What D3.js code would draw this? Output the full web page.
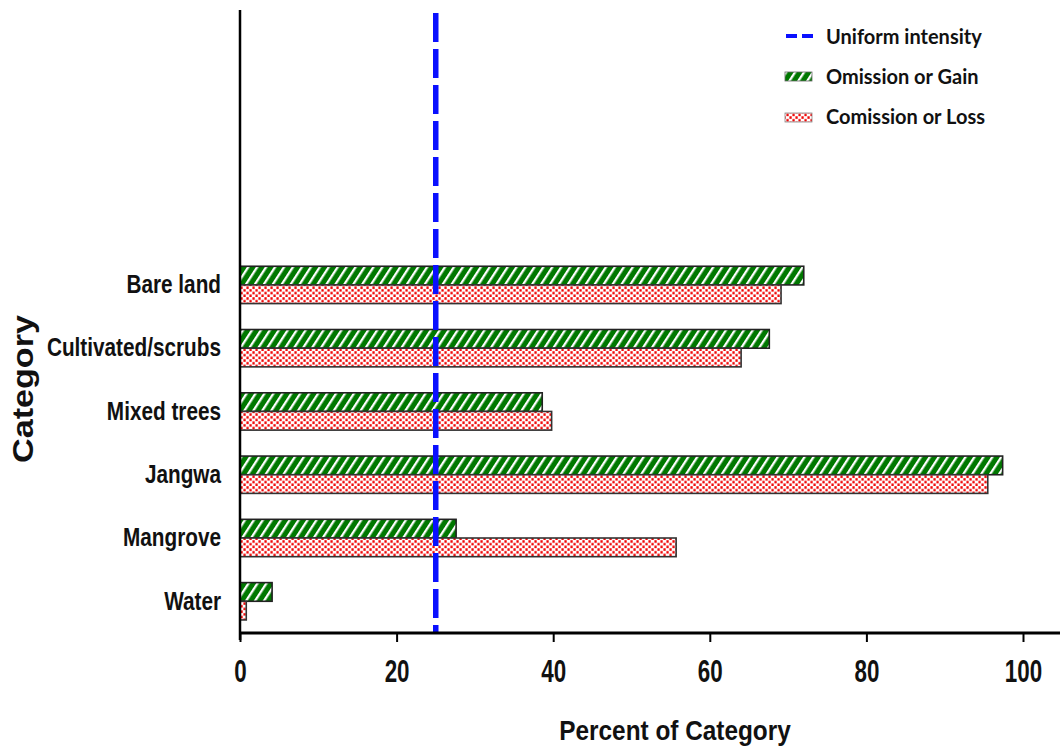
<!DOCTYPE html>
<html><head><meta charset="utf-8">
<script src="https://cdn.jsdelivr.net/npm/d3@7"></script>
<style>body{margin:0;background:#fff}svg{display:block}</style>
</head><body>
<svg id="c" width="1060" height="748"></svg>
<script>
const categories = ["Bare land","Cultivated/scrubs","Mixed trees","Jangwa","Mangrove","Water"];
const omissionGain = [72.0, 67.6, 38.6, 97.4, 27.6, 4.1];
const commissionLoss = [69.1, 64.0, 39.8, 95.5, 55.7, 0.8];
const uniformIntensity = 25;
const xTicks = [0,20,40,60,80,100];
const seriesNames = ["Uniform intensity","Omission or Gain","Comission or Loss"];

const svg = d3.select("#c");
const defs = svg.append("defs");
const ps = defs.append("pattern").attr("id","stripes").attr("patternUnits","userSpaceOnUse")
  .attr("width",7.5).attr("height",8).attr("patternTransform","rotate(33)");
ps.append("rect").attr("width",7.5).attr("height",8).attr("fill","#007800");
ps.append("rect").attr("x",0).attr("width",2.3).attr("height",8).attr("fill","#ffffff");
const pd = defs.append("pattern").attr("id","dots").attr("patternUnits","userSpaceOnUse")
  .attr("width",6).attr("height",5.4);
pd.append("rect").attr("width",6).attr("height",5.4).attr("fill","#fff");
pd.append("rect").attr("x",0.4).attr("y",0.2).attr("width",2.3).attr("height",2.6).attr("fill","#f00808");
pd.append("rect").attr("x",3.4).attr("y",2.9).attr("width",2.3).attr("height",2.6).attr("fill","#f00808");

const x = d3.scaleLinear().domain([0,100]).range([240,1023]);
const y = d3.scaleBand().domain(categories).range([253.6,632.6]).paddingInner(0.41).paddingOuter(0.2);
const sub = d3.scaleBand().domain(["g","l"]).range([0,y.bandwidth()]);

const bars = svg.append("g");
categories.forEach((c,i)=>{
  bars.append("rect").attr("x",x(0)).attr("y",y(c)+sub("g"))
    .attr("width",x(omissionGain[i])-x(0)).attr("height",sub.bandwidth())
    .attr("fill","url(#stripes)").attr("stroke","#222").attr("stroke-width",1.6);
  bars.append("rect").attr("x",x(0)).attr("y",y(c)+sub("l"))
    .attr("width",x(commissionLoss[i])-x(0)).attr("height",sub.bandwidth())
    .attr("fill","url(#dots)").attr("stroke","#333").attr("stroke-width",1.6);
});

svg.append("line").attr("x1",x(uniformIntensity)).attr("x2",x(uniformIntensity))
  .attr("y1",13).attr("y2",633).attr("stroke","#0a10ff").attr("stroke-width",5.5)
  .attr("stroke-dasharray","29,7");

const font = "'Liberation Sans',Arial,sans-serif";
const xs = 0.7;
const xAxis = d3.axisBottom(x).tickValues(xTicks).tickSize(9).tickFormat(d3.format("d"));
const gx = svg.append("g").attr("transform","translate(0,633)").call(xAxis);
gx.select(".domain").remove();
gx.selectAll(".tick line").attr("stroke","#000").attr("stroke-width",2);
gx.selectAll(".tick text").attr("font-family",font).attr("font-weight","bold")
  .attr("font-size",32).attr("fill","#111").attr("y",49).attr("dy",0)
  .attr("transform",`scale(${xs},1)`);
svg.append("line").attr("x1",239).attr("x2",1060).attr("y1",633).attr("y2",633).attr("stroke","#000").attr("stroke-width",3);

const ysx = 0.83;
const yAxis = d3.axisLeft(y).tickSize(0).tickPadding(19);
const gy = svg.append("g").attr("transform","translate(240,0)").call(yAxis);
gy.select(".domain").remove();
gy.selectAll(".tick text").attr("font-family",font).attr("font-weight","bold")
  .attr("font-size",25).attr("fill","#111").attr("x",-19/ysx).attr("dy","0.33em")
  .attr("transform",`scale(${ysx},1)`);
svg.append("line").attr("x1",240).attr("x2",240).attr("y1",10).attr("y2",640).attr("stroke","#000").attr("stroke-width",2.5);

svg.append("text").attr("transform","translate(675,740) scale(0.87,1)").attr("text-anchor","middle")
  .attr("font-family",font).attr("font-weight","bold")
  .attr("font-size",28).attr("fill","#111").text("Percent of Category");
svg.append("text").attr("transform","translate(33,389) rotate(-90)").attr("text-anchor","middle")
  .attr("font-family",font).attr("font-weight","bold")
  .attr("font-size",30).attr("fill","#111")
  .attr("textLength",148).attr("lengthAdjust","spacingAndGlyphs").text("Category");

const lg = svg.append("g");
const lf = "Lato,'Open Sans',sans-serif";
lg.append("line").attr("x1",786).attr("x2",813).attr("y1",36).attr("y2",36)
  .attr("stroke","#0a10ff").attr("stroke-width",4).attr("stroke-dasharray","11,5");
lg.append("rect").attr("x",785).attr("y",72).attr("width",27).attr("height",9)
  .attr("fill","url(#stripes)").attr("stroke","#666").attr("stroke-width",0.8);
lg.append("rect").attr("x",785).attr("y",113).attr("width",27).attr("height",9)
  .attr("fill","url(#dots)").attr("stroke","#888").attr("stroke-width",0.8);
const ly = [37,77,117];
seriesNames.forEach((n,i)=>{
  lg.append("text").attr("x",826).attr("y",ly[i]).attr("dy","0.35em")
    .attr("font-family",lf).attr("font-weight","bold").attr("font-size",20).attr("fill","#111").text(n);
});
</script>
</body></html>
